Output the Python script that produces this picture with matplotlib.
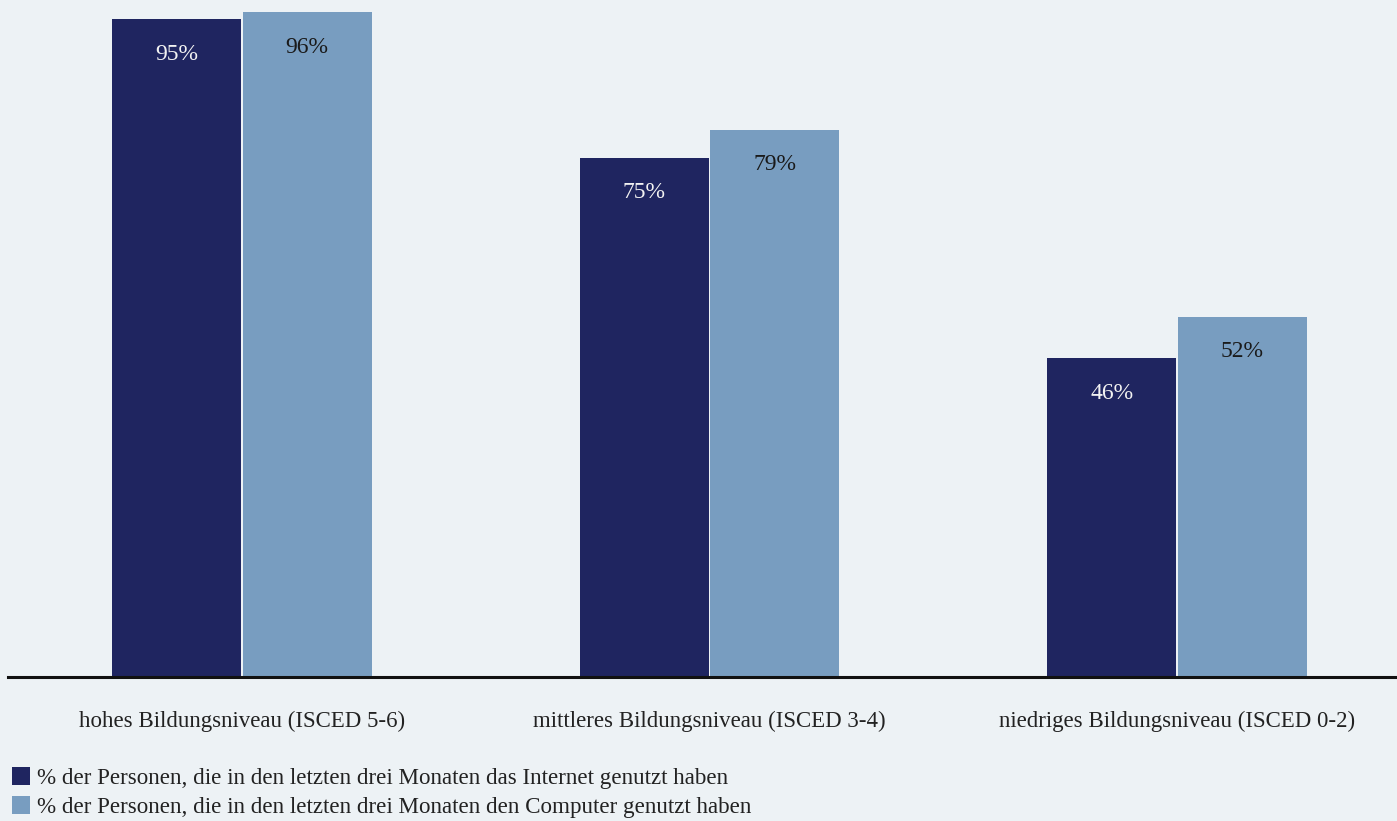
import matplotlib.pyplot as plt
import numpy as np

categories = ['hohes Bildungsniveau (ISCED 5-6)',
              'mittleres Bildungsniveau (ISCED 3-4)',
              'niedriges Bildungsniveau (ISCED 0-2)']
internet = [95, 75, 46]
computer = [96, 79, 52]
series_labels = ['% der Personen, die in den letzten drei Monaten das Internet genutzt haben',
                 '% der Personen, die in den letzten drei Monaten den Computer genutzt haben']

BG = '#edf2f5'
DARK = '#1f2560'
LIGHT = '#789dc0'

plt.rcParams['font.family'] = ['Liberation Serif', 'DejaVu Serif']

fig = plt.figure(figsize=(13.97, 8.21), dpi=100, facecolor=BG)
ax = fig.add_axes([8/1397, 144/821, 1389/1397, 677/821], facecolor=BG)

x = np.arange(len(categories))
w = 0.276
off = 0.1396
b1 = ax.bar(x - off, internet, w, color=DARK, label=series_labels[0])
b2 = ax.bar(x + off, computer, w, color=LIGHT, label=series_labels[1])

for rect, v in zip(b1, internet):
    ax.annotate(f'{v}%', (rect.get_x() + rect.get_width()/2, v), xytext=(0, -35),
                textcoords='offset pixels', ha='center', va='center',
                color='#f2f2f2', fontsize=17)
for rect, v in zip(b2, computer):
    ax.annotate(f'{v}%', (rect.get_x() + rect.get_width()/2, v), xytext=(0, -35),
                textcoords='offset pixels', ha='center', va='center',
                color='#1a1a1a', fontsize=17)

ax.set_xlim(-0.5005, 2.4706)
ax.set_ylim(0, 97.75)
for s in ['top', 'right', 'left']:
    ax.spines[s].set_visible(False)
ax.spines['bottom'].set_linewidth(2.2)
ax.spines['bottom'].set_color('#111111')
ax.set_yticks([])
ax.set_xticks(x)
ax.set_xticklabels(categories, fontsize=16.5, color='#222222')
ax.tick_params(axis='x', length=0, pad=24)

fig.legend(handles=[b1, b2], loc='lower left', bbox_to_anchor=(0.005, -0.002),
           frameon=False, fontsize=16.6, handlelength=0.8, handleheight=0.8,
           handletextpad=0.3, labelspacing=0.3, borderaxespad=0, borderpad=0.2,
           labelcolor='#222222')

fig.savefig('out.png', dpi=100, facecolor=BG)
